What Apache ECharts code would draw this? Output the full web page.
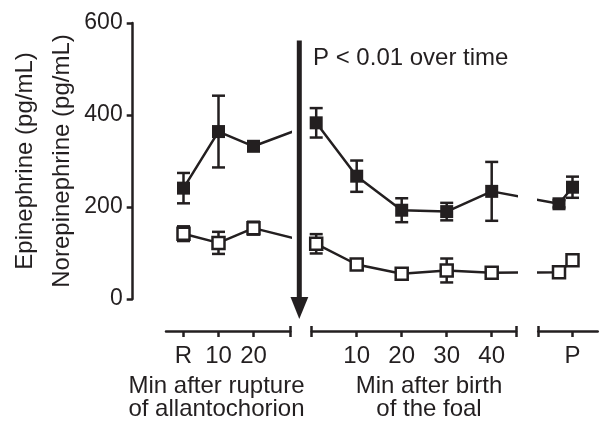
<!DOCTYPE html>
<html>
<head>
<meta charset="utf-8">
<script src="https://cdn.jsdelivr.net/npm/echarts@6/dist/echarts.min.js"></script>
<style>
  html, body { margin: 0; padding: 0; background: #fff; }
  #chart { width: 604px; height: 427px; }
</style>
</head>
<body>
<div id="chart"></div>
<script>
// minutes after rupture of the allantochorion (R = rupture)
const ruptureMin = [0, 10, 20]
const ruptureLabels = ['R', '10', '20']
// minutes after birth of the foal
const birthMin = [1, 10, 20, 30, 40]
const birthTicks = [10, 20, 30, 40]
// late samples, last one is P
const lateMin = [55, 58]
const lateTicks = [58]
const lateLabels = ['P']

// filled squares
const norepiRupture = [241, 364, 332]
const norepiRuptureSem = [33, 78, 10]
const norepiBirth = [383, 267, 193, 190, 234]
const norepiBirthSem = [32, 34, 26, 19, 64]
const norepiLate = [207, 243]
const norepiLateSem = [8, 23]

// open squares
const epiRupture = [142, 122, 154]
const epiRuptureSem = [16, 24, 14]
const epiBirth = [120, 75, 55, 62, 57]
const epiBirthSem = [21, 8, 8, 26, 12]
const epiLate = [58, 84]
const epiLateSem = [8, 8]

const yTicks = [0, 200, 400, 600]

const ink = '#231f20'
const font = 'Liberation Sans, Arial, Helvetica, sans-serif'

const chart = echarts.init(document.getElementById('chart'))

const pairs = (xs, ys) => xs.map((x, i) => [x, ys[i]])
const bars = (xs, ys, sem) => xs.map((x, i) => [x, ys[i] - sem[i], ys[i] + sem[i]])

const segRange = [[-5, 30.5], [0, 45.4], [50.4, 63.6]]
const grids = [
  { left: 166, top: 23, width: 124.25, height: 276 },
  { left: 311.7, top: 23, width: 204.3, height: 276 },
  { left: 538.3, top: 23, width: 59.4, height: 276 }
]
const tickVals = [ruptureMin, birthTicks, lateTicks]
const capVals = [[30.5], [0, 45.4], [50.4]]

const labelFor = (seg, v) => {
  if (seg === 0) return ruptureLabels[ruptureMin.indexOf(v)] ?? ''
  if (seg === 2) return lateLabels[lateTicks.indexOf(v)] ?? ''
  return String(v)
}

const mainX = [0, 1, 2].map((i) => ({
  type: 'value',
  gridIndex: i,
  min: segRange[i][0],
  max: segRange[i][1],
  position: 'bottom',
  offset: 32,
  axisLine: { show: true, onZero: false, lineStyle: { color: ink, width: 2.5 } },
  axisTick: {
    show: true,
    length: 6,
    customValues: tickVals[i].concat(capVals[i]),
    lineStyle: { color: ink, width: 2.5 }
  },
  axisLabel: {
    customValues: tickVals[i],
    formatter: (v) => labelFor(i, v),
    color: ink,
    fontSize: 24,
    fontFamily: font,
    margin: 13
  },
  splitLine: { show: false }
}))

// second axis per segment only for the upward half of the end caps
const capX = [0, 1, 2].map((i) => ({
  type: 'value',
  gridIndex: i,
  min: segRange[i][0],
  max: segRange[i][1],
  position: 'bottom',
  offset: 32,
  axisLine: { show: false, onZero: false },
  axisTick: {
    show: true,
    inside: true,
    length: 5,
    customValues: capVals[i],
    lineStyle: { color: ink, width: 2.5 }
  },
  axisLabel: { show: false },
  splitLine: { show: false }
}))

const yAxes = [0, 1, 2].map((i) => ({
  type: 'value',
  gridIndex: i,
  min: 0,
  max: 600,
  interval: 200,
  show: i === 0,
  position: 'left',
  offset: 33.3,
  name: i === 0 ? 'Epinephrine (pg/mL)\nNorepinephrine (pg/mL)' : '',
  nameLocation: 'middle',
  nameRotate: 90,
  nameGap: 52,
  nameTextStyle: { color: ink, fontSize: 24, fontFamily: font, lineHeight: 37 },
  axisLine: { show: true, onZero: false, lineStyle: { color: ink, width: 2.5 } },
  axisTick: { show: true, length: 6, lineStyle: { color: ink, width: 2.5 } },
  axisLabel: {
    color: ink,
    fontSize: 23,
    fontFamily: font,
    margin: 10,
    formatter: (v) => (yTicks.includes(v) ? String(v) : '')
  },
  splitLine: { show: false }
}))

const filled = { symbol: 'rect', symbolSize: 13, itemStyle: { color: ink } }
const open = {
  symbol: 'rect',
  symbolSize: 12,
  itemStyle: { color: '#fff', borderColor: ink, borderWidth: 2.5 }
}

const lineSeries = (id, seg, data, look) => ({
  id,
  type: 'line',
  xAxisIndex: seg,
  yAxisIndex: seg,
  data,
  clip: true,
  z: 3,
  showAllSymbol: true,
  lineStyle: { color: ink, width: 2.5 },
  ...look
})

const renderBar = (params, api) => {
  const lo = api.coord([api.value(0), api.value(1)])
  const hi = api.coord([api.value(0), api.value(2)])
  const half = 6.5
  const style = { stroke: ink, lineWidth: 2.5 }
  return {
    type: 'group',
    children: [
      { type: 'line', shape: { x1: lo[0], y1: lo[1], x2: hi[0], y2: hi[1] }, style },
      { type: 'line', shape: { x1: hi[0] - half, y1: hi[1], x2: hi[0] + half, y2: hi[1] }, style },
      { type: 'line', shape: { x1: lo[0] - half, y1: lo[1], x2: lo[0] + half, y2: lo[1] }, style }
    ]
  }
}

const barSeries = (seg, data) => ({
  type: 'custom',
  xAxisIndex: seg,
  yAxisIndex: seg,
  renderItem: renderBar,
  encode: { x: 0, y: [1, 2] },
  data,
  z: 1,
  silent: true
})

const hidden = (pt) => ({ value: pt, symbol: 'none' })

const option = {
  animation: false,
  backgroundColor: '#fff',
  grid: grids,
  xAxis: mainX.concat(capX),
  yAxis: yAxes,
  series: [
    lineSeries('norepi0', 0, pairs(ruptureMin, norepiRupture), filled),
    lineSeries('epi0', 0, pairs(ruptureMin, epiRupture), open),
    lineSeries('norepi1', 1,
      pairs(birthMin, norepiBirth).concat([hidden([lateMin[0], norepiLate[0]])]), filled),
    lineSeries('epi1', 1,
      pairs(birthMin, epiBirth).concat([hidden([lateMin[0], epiLate[0]])]), open),
    lineSeries('norepi2', 2,
      [hidden([birthMin[4], norepiBirth[4]])].concat(pairs(lateMin, norepiLate)), filled),
    lineSeries('epi2', 2,
      [hidden([birthMin[4], epiBirth[4]])].concat(pairs(lateMin, epiLate)), open),
    barSeries(0, bars(ruptureMin, norepiRupture, norepiRuptureSem).concat(bars(ruptureMin, epiRupture, epiRuptureSem))),
    barSeries(1, bars(birthMin, norepiBirth, norepiBirthSem).concat(bars(birthMin, epiBirth, epiBirthSem))),
    barSeries(2, bars(lateMin, norepiLate, norepiLateSem).concat(bars(lateMin, epiLate, epiLateSem)))
  ],
  graphic: [
    {
      type: 'group',
      children: [
        { type: 'line', shape: { x1: 299.3, y1: 40.5, x2: 299.3, y2: 300 }, style: { stroke: ink, lineWidth: 5 } },
        { type: 'polygon', shape: { points: [[290.5, 297], [308.3, 297], [299.3, 319]] }, style: { fill: ink } }
      ]
    },
    {
      type: 'text', x: 313, y: 58,
      style: { text: 'P < 0.01 over time', fontSize: 24, fontFamily: font, fill: ink, align: 'left', verticalAlign: 'middle' }
    },
    {
      type: 'text', x: 216.5, y: 398,
      style: { text: 'Min after rupture\nof allantochorion', fontSize: 24, fontFamily: font, fill: ink, align: 'center', verticalAlign: 'middle', lineHeight: 23.5 }
    },
    {
      type: 'text', x: 429, y: 398,
      style: { text: 'Min after birth\nof the foal', fontSize: 24, fontFamily: font, fill: ink, align: 'center', verticalAlign: 'middle', lineHeight: 23.5 }
    }
  ]
}

chart.setOption(option)

// line from 20 min towards the birth point, cut at the axis break
const birthPx = chart.convertToPixel({ xAxisIndex: 1 }, birthMin[0])
const bridgeX = chart.convertFromPixel({ xAxisIndex: 0 }, birthPx)
chart.setOption({
  series: [
    { id: 'norepi0', data: pairs(ruptureMin, norepiRupture).concat([hidden([bridgeX, norepiBirth[0]])]) },
    { id: 'epi0', data: pairs(ruptureMin, epiRupture).concat([hidden([bridgeX, epiBirth[0]])]) }
  ]
})
</script>
</body>
</html>
